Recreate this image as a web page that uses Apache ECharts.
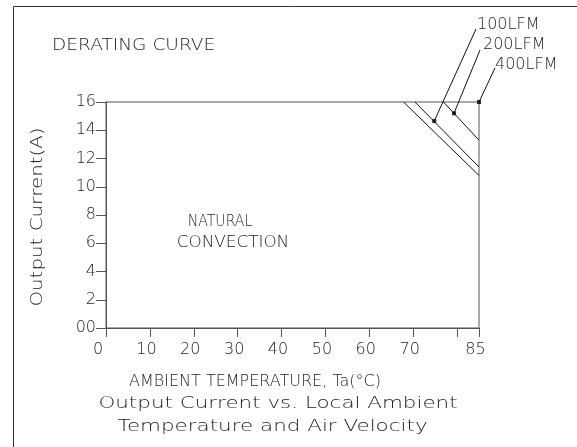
<!DOCTYPE html>
<html>
<head>
<meta charset="utf-8">
<script src="https://cdn.jsdelivr.net/npm/echarts@6/dist/echarts.min.js"></script>
<style>html,body{margin:0;padding:0;background:#fff;}#c{width:577px;height:447px;}</style>
</head>
<body>
<div id="c"></div>
<script>
// ---- data ----
const tempMin = 0;
const tempMax = 85;
const currentMax = 16;
const naturalConvection = [[67.8, 16], [85, 10.8]];
const lfm100 = [[70.4, 16], [85, 11.4]];
const lfm200 = [[76.9, 16], [85, 13.3]];
const markerNames = ['100LFM', '200LFM', '400LFM'];
const markerPoints = [[74.8, 14.65], [79.3, 15.2], [85, 16]];
const xHiddenLabels = [80];
const yZeroLabel = '00';

const FONT = "'DejaVu Sans'";
const TXT = '#222';
const AX = '#555';

const chart = echarts.init(document.getElementById('c'), null, {renderer: 'canvas'});

function lineSeries(data) {
  return {type: 'line', data: data, symbol: 'none', silent: true,
    lineStyle: {color: '#111', width: 1}, animation: false};
}

chart.setOption({
  animation: false,
  backgroundColor: '#fff',
  grid: {left: 106, right: 98, top: 102, bottom: 119, show: true,
    borderColor: AX, borderWidth: 1, backgroundColor: 'transparent'},
  xAxis: {
    type: 'value', min: tempMin, max: tempMax, interval: 10,
    axisLine: {show: true, lineStyle: {color: AX, width: 1}},
    axisTick: {show: true, inside: false, length: 9, lineStyle: {color: AX}},
    splitLine: {show: false},
    axisLabel: {
      margin: 14, color: TXT, fontFamily: FONT, fontSize: 16, fontWeight: 200,
      formatter: function (v) {
        if (xHiddenLabels.indexOf(v) >= 0) return '';
        if (v === 0) return '{z|0}';
        return '{n|' + v + '}';
      },
      rich: {
        n: {padding: [0, 7, 0, 0], fontFamily: FONT, fontSize: 16, fontWeight: 200, color: TXT},
        z: {padding: [0, 16, 0, 0], fontFamily: FONT, fontSize: 16, fontWeight: 200, color: TXT}
      }
    }
  },
  yAxis: {
    type: 'value', min: 0, max: currentMax, interval: 2,
    axisLine: {show: true, lineStyle: {color: AX, width: 1}},
    axisTick: {show: true, inside: false, length: 10, lineStyle: {color: AX}},
    splitLine: {show: false},
    axisLabel: {
      margin: 10, color: TXT, fontFamily: FONT, fontSize: 16, fontWeight: 200,
      formatter: function (v) { return v === 0 ? yZeroLabel : String(v); }
    }
  },
  series: [
    lineSeries(naturalConvection),
    lineSeries(lfm100),
    lineSeries(lfm200),
    {type: 'scatter', data: markerPoints, symbol: 'rect', symbolSize: 4,
      itemStyle: {color: '#000'}, silent: true, animation: false, z: 5}
  ]
});

// ---- annotations (text & leader lines) ----
function txt(s, x, y, opts) {
  opts = opts || {};
  return {
    type: 'text', x: x, y: y, scaleX: opts.sx || 1, rotation: opts.rot || 0, silent: true,
    style: {text: s, fill: TXT, fontFamily: FONT, fontSize: opts.fs || 16, fontWeight: 200,
      textAlign: opts.align || 'left', textVerticalAlign: 'middle'}
  };
}

const leaderEnds = [[476, 29], [480, 50], [495, 68]];
const labelPos = [[477, 25], [483, 45], [495, 65]];

const graphics = [
  {type: 'line', silent: true, shape: {x1: 13.5, y1: 6.5, x2: 577, y2: 6.5}, style: {stroke: '#333', lineWidth: 1}},
  {type: 'line', silent: true, shape: {x1: 13.5, y1: 6.5, x2: 13.5, y2: 447}, style: {stroke: '#333', lineWidth: 1}},
  txt('DERATING CURVE', 52, 45.5, {sx: 1.16}),
  txt('NATURAL', 220, 222, {align: 'center', sx: 0.88}),
  txt('CONVECTION', 233, 243, {align: 'center', sx: 1.05}),
  txt('AMBIENT TEMPERATURE, Ta(\u00B0C)', 255, 382, {align: 'center', sx: 1.0}),
  txt('Output Current vs. Local Ambient', 278, 404, {align: 'center', sx: 1.34}),
  txt('Temperature and Air Velocity', 272.5, 427, {align: 'center', sx: 1.34}),
  txt('Output Current(A)', 38, 217, {align: 'center', sx: 1.24, rot: Math.PI / 2})
];

markerPoints.forEach(function (p, i) {
  const px = chart.convertToPixel({seriesIndex: 3}, p);
  graphics.push({type: 'line', silent: true,
    shape: {x1: px[0], y1: px[1], x2: leaderEnds[i][0], y2: leaderEnds[i][1]},
    style: {stroke: '#111', lineWidth: 1}});
  graphics.push(txt(markerNames[i], labelPos[i][0], labelPos[i][1]));
});

chart.setOption({graphic: graphics});
</script>
</body>
</html>
